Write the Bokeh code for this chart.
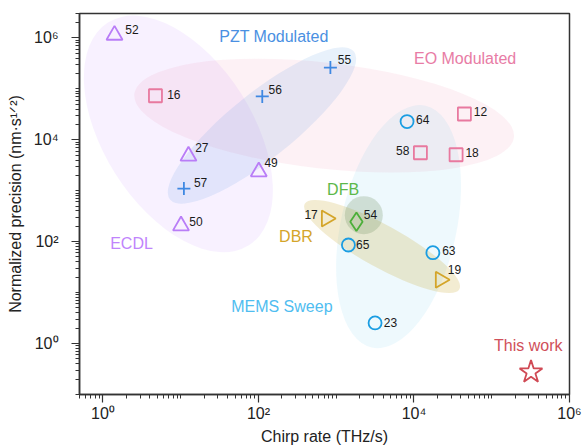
import math
from bokeh.plotting import figure
from bokeh.models import ColumnDataSource, FixedTicker, Range1d, Label
from bokeh.embed import file_html
from bokeh.resources import INLINE

FONT = "Liberation Sans"

# ---------------- data ----------------
ecdl_ref = ["52", "27", "49", "50"]
ecdl_x = [1.41, 12.6, 101, 10.1]
ecdl_y = [1.13e6, 4.78e3, 2.36e3, 205]

pzt_ref = ["56", "55", "57"]
pzt_x = [112, 842, 11.0]
pzt_y = [7.07e4, 2.61e5, 1.10e3]

eo_ref = ["16", "12", "58", "18"]
eo_x = [4.74, 4.45e4, 1.21e4, 3.48e4]
eo_y = [7.3e4, 3.2e4, 5.55e3, 5.07e3]

mems_ref = ["64", "65", "63", "23"]
mems_x = [8150, 1435, 1.75e4, 3160]
mems_y = [2.27e4, 85.9, 60.7, 2.54]

dbr_ref = ["17", "19"]
dbr_x = [750, 2.19e4]
dbr_y = [285, 17.8]

dfb_ref = ["54"]
dfb_x = [1820]
dfb_y = [245]

this_x = [3.2e5]
this_y = [0.275]

x_major = [1, 100, 1e4, 1e6]
x_labels = ["10⁰", "10²", "10⁴", "10⁶"]
y_major = [1, 100, 1e4, 1e6]
y_labels = ["10⁰", "10²", "10⁴", "10⁶"]

# ---------------- styling ----------------
C_ECDL = "#b97df7"
C_PZT = "#3f88e2"
C_EO = "#e8799f"
C_MEMS = "#1a9de2"
C_DBR = "#d4a52a"
C_DFB = "#4caf3a"
C_THIS = "#d04a55"

# label offsets in screen px (dx, dy, align)
label_off = {
    "52": (10.7, -5.7, "left"), "27": (6.7, -8.3, "left"), "49": (5.6, -9, "left"),
    "50": (8.3, -3.9, "left"), "56": (6.3, -7.4, "left"), "55": (7.4, -8.4, "left"),
    "57": (10, -5.6, "left"), "16": (11.7, -1.7, "left"), "12": (9.4, -2.6, "left"),
    "58": (-11, -2.3, "right"), "18": (9.3, -2.6, "left"), "64": (9, -2, "left"),
    "65": (7.7, 0, "left"), "63": (9.3, -1.7, "left"), "23": (8.7, -0.6, "left"),
    "17": (-8.7, -4.3, "right"), "19": (7.3, -10, "left"), "54": (7.4, -7.7, "left"),
}

# background group ellipses: center (data), width/height (screen px), angle (deg)
regions = [
    dict(x=9.34, y=1.30e4, w=263.6, h=149.2, a=-57.7, c="#c084fc", al=0.11),
    dict(x=700, y=2.97e4, w=382, h=106, a=-6.5, c="#e8799f", al=0.10),
    dict(x=111, y=1.90e4, w=236, h=65, a=38.8, c="#4a90e2", al=0.13),
    dict(x=6340, y=197, w=247.6, h=115.6, a=77.5, c="#2ab0e8", al=0.08),
    dict(x=3890, y=80.2, w=176.6, h=42.4, a=-28.9, c="#c8a830", al=0.22),
    dict(x=2264, y=331, w=38, h=38, a=0, c="#6f8f60", al=0.25),
]

p = figure(width=586, height=447, x_axis_type="log", y_axis_type="log",
           x_range=Range1d(0.5, 1e6), y_range=Range1d(0.1, 3e6),
           output_backend="svg", toolbar_location=None,
           min_border_left=79, min_border_right=17, min_border_top=13, min_border_bottom=52)
p.grid.visible = False
p.outline_line_color = "#333333"
p.outline_line_width = 1.5
p.outline_line_alpha = 1.0

for r in regions:
    p.ellipse(x=[r["x"]], y=[r["y"]], width=[r["w"]], height=[r["h"]],
              width_units="screen", height_units="screen",
              angle=[math.radians(r["a"])], fill_color=r["c"], fill_alpha=r["al"],
              line_color=None)

def add_series(xs, ys, marker, color, size, angle=0.0):
    p.scatter(x=xs, y=ys, marker=marker, size=size, angle=angle,
              fill_color=None, line_color=color, line_width=1.8)

add_series(ecdl_x, ecdl_y, "triangle", C_ECDL, 16)
add_series(pzt_x, pzt_y, "cross", C_PZT, 13)
add_series(eo_x, eo_y, "square", C_EO, 13)
add_series(mems_x, mems_y, "circle", C_MEMS, 13)
add_series(dbr_x, dbr_y, "triangle", C_DBR, 16, angle=-math.pi / 2)
add_series(dfb_x, dfb_y, "diamond", C_DFB, 18.5)
add_series(this_x, this_y, "star", C_THIS, 24)

# number labels
refs = ecdl_ref + pzt_ref + eo_ref + mems_ref + dbr_ref + dfb_ref
xs = ecdl_x + pzt_x + eo_x + mems_x + dbr_x + dfb_x
ys = ecdl_y + pzt_y + eo_y + mems_y + dbr_y + dfb_y
src = ColumnDataSource(dict(
    x=xs, y=ys, t=refs,
    dx=[label_off[r][0] for r in refs],
    dy=[label_off[r][1] for r in refs],
    al=[label_off[r][2] for r in refs],
))
p.text(x="x", y="y", text="t", source=src, x_offset="dx", y_offset="dy",
       text_align="al", text_baseline="middle", text_font_size="12px",
       text_color="#1a1a1a", text_font={"value": FONT})

# group names
group_labels = [
    ("PZT Modulated", 31.3, 1.04e6, "#4a90e2"),
    ("EO Modulated", 1.0e4, 3.9e5, "#e87ca5"),
    ("DFB", 764, 1065, "#5cb84a"),
    ("DBR", 184.5, 128.6, "#d4a52a"),
    ("ECDL", 1.24, 93.9, "#c084fc"),
    ("MEMS Sweep", 44.6, 5.28, "#4fbdf0"),
    ("This work", 1.07e5, 0.926, "#d0505a"),
]
for txt, lx, ly, col in group_labels:
    p.add_layout(Label(x=lx, y=ly, text=txt, text_color=col, text_font_size="16px",
                       text_font=FONT, text_baseline="middle", text_align="left"))

# axes
minor = []
for e in range(-2, 7):
    for k in range(1, 10):
        v = k * 10.0 ** e
        if v not in x_major:
            minor.append(v)
p.xaxis.ticker = FixedTicker(ticks=x_major, minor_ticks=minor)
p.yaxis.ticker = FixedTicker(ticks=y_major, minor_ticks=minor)
p.xaxis.major_label_overrides = {t: l for t, l in zip(x_major, x_labels)}
p.yaxis.major_label_overrides = {t: l for t, l in zip(y_major, y_labels)}
p.xaxis.axis_label = "Chirp rate (THz/s)"
p.yaxis.axis_label = "Normalized precision (nm·s¹ᐟ²)"

for ax in (p.xaxis, p.yaxis):
    ax.axis_line_color = "#333333"
    ax.axis_line_width = 1.5
    ax.major_tick_line_color = "#333333"
    ax.minor_tick_line_color = "#333333"
    ax.major_tick_line_width = 1.2
    ax.minor_tick_line_width = 1.0
    ax.major_tick_in = 0
    ax.major_tick_out = 8
    ax.minor_tick_in = 0
    ax.minor_tick_out = 4
    ax.major_label_text_font = FONT
    ax.major_label_text_font_size = "16px"
    ax.major_label_text_color = "#222222"
    ax.axis_label_text_font = FONT
    ax.axis_label_text_font_size = "16px"
    ax.axis_label_text_font_style = "normal"
    ax.axis_label_text_color = "#222222"

p.xaxis.major_label_standoff = 2
p.xaxis.axis_label_standoff = 3
p.yaxis.major_label_standoff = 13
p.yaxis.axis_label_standoff = 7

open("out.html", "w").write(file_html(p, INLINE))
